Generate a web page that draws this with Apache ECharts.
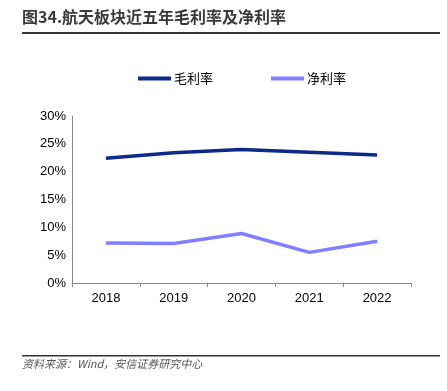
<!DOCTYPE html>
<html>
<head>
<meta charset="utf-8">
<script src="https://cdn.jsdelivr.net/npm/echarts@6/dist/echarts.min.js"></script>
<style>
  html, body { margin: 0; padding: 0; background: #fff; }
  #main { width: 447px; height: 391px; }
</style>
</head>
<body>
<div id="main"></div>
<script>
// 年份
var years = ['2018', '2019', '2020', '2021', '2022'];
// 毛利率 / 净利率 (%)
var grossMargin = [22.4, 23.4, 24.0, 23.5, 23.0];
var netMargin = [7.2, 7.1, 8.9, 5.5, 7.5];

var chart = echarts.init(document.getElementById('main'));
var font = '"Noto Sans CJK SC", "Liberation Sans", sans-serif';

var option = {
    backgroundColor: '#fff',
    animation: false,
    textStyle: { fontFamily: font },
    graphic: [
        {
            type: 'text', left: 22, top: 9,
            style: { text: '图34.航天板块近五年毛利率及净利率', fontSize: 16, fontWeight: 'bold', fill: '#3a3a3a', fontFamily: font }
        },
        { type: 'rect', left: 22, top: 32, shape: { width: 418, height: 2 }, style: { fill: '#333' } },
        { type: 'rect', left: 22, top: 355, shape: { width: 418, height: 1.5 }, style: { fill: '#333' } },
        {
            type: 'text', left: 22, top: 358,
            style: { text: '资料来源：Wind，安信证券研究中心', fontSize: 11, fontStyle: 'italic', fill: '#555', fontFamily: font }
        }
    ],
    legend: {
        top: 67,
        left: 133,
        itemGap: 58,
        itemWidth: 33,
        itemHeight: 4,
        icon: 'rect',
        textStyle: { fontSize: 13, color: '#000', fontFamily: font, padding: [0, 0, 0, -2] },
        data: ['毛利率', '净利率']
    },
    grid: { left: 72, right: 36, top: 116, bottom: 108 },
    xAxis: {
        type: 'category',
        data: years,
        boundaryGap: true,
        axisLine: { lineStyle: { color: '#888', width: 1 } },
        axisTick: { show: true, length: 4, lineStyle: { color: '#888' } },
        axisLabel: { color: '#000', fontSize: 13, margin: 9, fontFamily: '"Liberation Sans", Arial, sans-serif' }
    },
    yAxis: {
        type: 'value',
        min: 0, max: 30, interval: 5,
        axisLine: { show: true, lineStyle: { color: '#888', width: 1 } },
        axisTick: { show: false },
        splitLine: { show: false },
        axisLabel: { color: '#000', fontSize: 13, margin: 6, formatter: '{value}%', fontFamily: '"Liberation Sans", Arial, sans-serif' }
    },
    series: [
        {
            name: '毛利率', type: 'line', data: grossMargin,
            symbol: 'none', color: '#0c2a8a',
            lineStyle: { width: 3.5, color: '#0c2a8a' }
        },
        {
            name: '净利率', type: 'line', data: netMargin,
            symbol: 'none', color: '#7f7fff',
            lineStyle: { width: 3.5, color: '#7f7fff' }
        }
    ]
};
chart.setOption(option);
</script>
</body>
</html>
